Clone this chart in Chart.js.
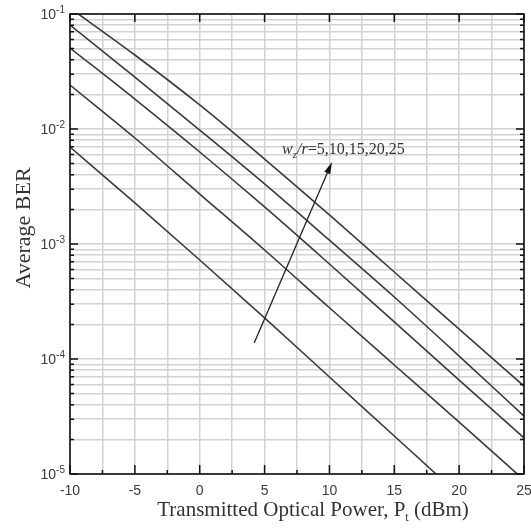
<!DOCTYPE html>
<html>
<head>
<meta charset="utf-8">
<script src="https://cdn.jsdelivr.net/npm/chart.js@4.4.1/dist/chart.umd.min.js"></script>
<style>
  html, body { margin: 0; padding: 0; background: #fff; }
  #wrap { width: 531px; height: 530px; }
</style>
</head>
<body>
<div id="wrap"><canvas id="berChart" width="531" height="530"></canvas></div>
<script>
// transmitted optical power, dBm
var power = [-10, -5, 0, 5, 10, 15, 20, 25];

// average BER for w_z/r = 5, 10, 15, 20, 25 (top curve first)
var berRatio25 = [0.1127, 0.0440, 0.0162, 0.00548, 0.00179, 0.000571, 0.000182, 0.0000582];
var berRatio20 = [0.0802, 0.0283, 0.00980, 0.00333, 0.00108, 0.000346, 0.000106, 0.0000319];
var berRatio15 = [0.0506, 0.0182, 0.00631, 0.00210, 0.00067, 0.000210, 0.0000656, 0.0000206];
var berRatio10 = [0.0241, 0.00835, 0.00272, 0.000887, 0.000279, 0.0000887, 0.0000283, 0.00000887];
var berRatio5  = [0.00697, 0.00228, 0.000726, 0.000228, 0.0000697, 0.0000214, 0.00000656, null];

var xTickLabels = [-10, -5, 0, 5, 10, 15, 20, 25];
var yDecades = [-5, -4, -3, -2, -1];

var ratioNote = '=5,10,15,20,25';
var notePos = { x: 6.35, y: 0.00607 };
var arrowTail = { x: 4.2, y: 0.000138 };
var arrowHead = { x: 10.2, y: 0.00516 };

var lineColor = '#3a3a3a';
var gridColor = '#d2d2d2';
var textColor = '#3c3c3c';
var serif = '"Liberation Serif", "Times New Roman", serif';
var sans = '"Liberation Sans", Arial, sans-serif';

// every 1..9 x 10^n gridline between the decades
var yTickValues = [];
yDecades.forEach(function(e, i) {
    for (var m = 1; m <= 9; m++) {
        if (i === yDecades.length - 1 && m > 1) break;
        yTickValues.push(m * Math.pow(10, e));
    }
});

function toPoints(values) {
    return power.map(function(p, i) { return { x: p, y: values[i] }; });
}

function series(values) {
    return {
        data: toPoints(values),
        borderColor: lineColor,
        borderWidth: 1.6,
        pointRadius: 0,
        fill: false,
        cubicInterpolationMode: 'monotone'
    };
}

// draws a run of text pieces with their own fonts and baseline shifts
function drawRich(ctx, parts, x, y, align) {
    var total = 0;
    parts.forEach(function(p) { ctx.font = p.font; total += ctx.measureText(p.text).width; });
    var cx = align === 'center' ? x - total / 2 : (align === 'right' ? x - total : x);
    ctx.textAlign = 'left';
    parts.forEach(function(p) {
        ctx.font = p.font;
        ctx.fillText(p.text, cx, y + (p.dy || 0));
        cx += ctx.measureText(p.text).width;
    });
}

var decorations = {
    id: 'decorations',
    afterDraw: function(chart) {
        var ctx = chart.ctx;
        var area = chart.chartArea;
        var xs = chart.scales.x;
        var ys = chart.scales.y;
        ctx.save();

        // frame
        ctx.strokeStyle = '#111';
        ctx.lineWidth = 1.6;
        ctx.strokeRect(area.left, area.top, area.right - area.left, area.bottom - area.top);

        // inward ticks on the x axis (bottom and top)
        ctx.lineWidth = 1.5;
        ctx.beginPath();
        for (var v = -10; v <= 25; v += 2.5) {
            var px = xs.getPixelForValue(v);
            var major = v % 5 === 0;
            ctx.moveTo(px, area.bottom);
            ctx.lineTo(px, area.bottom - (major ? 9 : 4));
            if (major) {
                ctx.moveTo(px, area.top);
                ctx.lineTo(px, area.top + 8);
            }
        }
        // inward ticks on the y axis (left and right)
        yTickValues.forEach(function(val) {
            var py = ys.getPixelForValue(val);
            var isDecade = Math.abs(Math.log10(val) - Math.round(Math.log10(val))) < 1e-9;
            var len = isDecade ? 8 : 4;
            ctx.moveTo(area.left, py);
            ctx.lineTo(area.left + len, py);
            ctx.moveTo(area.right, py);
            ctx.lineTo(area.right - len, py);
        });
        ctx.stroke();

        // y tick labels as powers of ten
        ctx.fillStyle = textColor;
        ctx.textBaseline = 'middle';
        yDecades.forEach(function(e) {
            var py = ys.getPixelForValue(Math.pow(10, e));
            drawRich(ctx, [
                { text: '10', font: '14px ' + sans, dy: 1 },
                { text: String(e), font: '10px ' + sans, dy: -4 }
            ], area.left - 5, py, 'right');
        });

        // axis titles
        ctx.fillStyle = '#333';
        ctx.textBaseline = 'alphabetic';
        drawRich(ctx, [
            { text: 'Transmitted Optical Power, P', font: '21px ' + serif },
            { text: 't', font: '12px ' + serif, dy: 5 },
            { text: ' (dBm)', font: '21px ' + serif }
        ], 313, 516, 'center');

        ctx.save();
        ctx.translate(30, 228);
        ctx.rotate(-Math.PI / 2);
        ctx.font = '22px ' + serif;
        ctx.textAlign = 'center';
        ctx.fillText('Average BER', 0, 0);
        ctx.restore();

        // w_z/r annotation and arrow
        var nx = xs.getPixelForValue(notePos.x);
        var ny = ys.getPixelForValue(notePos.y);
        drawRich(ctx, [
            { text: 'w', font: 'italic 16px ' + serif },
            { text: 'z', font: 'italic 11px ' + serif, dy: 4 },
            { text: '/r', font: 'italic 16px ' + serif },
            { text: ratioNote, font: '16px ' + serif }
        ], nx, ny, 'left');

        var tx = xs.getPixelForValue(arrowTail.x), ty = ys.getPixelForValue(arrowTail.y);
        var hx = xs.getPixelForValue(arrowHead.x), hy = ys.getPixelForValue(arrowHead.y);
        var ang = Math.atan2(hy - ty, hx - tx);
        var headLen = 12, headHalf = 3.2;
        var bx = hx - headLen * Math.cos(ang), by = hy - headLen * Math.sin(ang);
        ctx.strokeStyle = '#222';
        ctx.lineWidth = 1.3;
        ctx.beginPath();
        ctx.moveTo(tx, ty);
        ctx.lineTo(bx, by);
        ctx.stroke();
        ctx.fillStyle = '#111';
        ctx.beginPath();
        ctx.moveTo(hx, hy);
        ctx.lineTo(bx + headHalf * Math.sin(ang), by - headHalf * Math.cos(ang));
        ctx.lineTo(bx - headHalf * Math.sin(ang), by + headHalf * Math.cos(ang));
        ctx.closePath();
        ctx.fill();

        ctx.restore();
    }
};

var chart = new Chart(document.getElementById('berChart'), {
    type: 'line',
    data: {
        datasets: [
            series(berRatio25),
            series(berRatio20),
            series(berRatio15),
            series(berRatio10),
            series(berRatio5)
        ]
    },
    options: {
        responsive: false,
        animation: false,
        devicePixelRatio: 1,
        layout: { padding: { top: 14, right: 7, left: 0, bottom: 0 } },
        plugins: {
            legend: { display: false },
            tooltip: { enabled: false }
        },
        scales: {
            x: {
                type: 'linear',
                min: -10,
                max: 25,
                ticks: {
                    stepSize: 2.5,
                    autoSkip: false,
                    maxRotation: 0,
                    padding: 9,
                    color: textColor,
                    font: { family: sans, size: 14 },
                    callback: function(v) {
                        return xTickLabels.indexOf(v) >= 0 ? String(v) : '';
                    }
                },
                grid: { color: gridColor, lineWidth: 1.5, drawTicks: false },
                border: { display: false },
                afterFit: function(s) {
                    s.height = 56;
                    s.paddingLeft = 0;
                    s.paddingRight = 0;
                }
            },
            y: {
                type: 'logarithmic',
                min: 1e-5,
                max: 1e-1,
                afterBuildTicks: function(s) {
                    s.ticks = yTickValues.map(function(v) { return { value: v }; });
                },
                ticks: { display: false },
                grid: { color: gridColor, lineWidth: 1.5, drawTicks: false },
                border: { display: false },
                afterFit: function(s) {
                    s.width = 70;
                    s.paddingTop = 0;
                    s.paddingBottom = 0;
                }
            }
        }
    },
    plugins: [decorations]
});
</script>
</body>
</html>
